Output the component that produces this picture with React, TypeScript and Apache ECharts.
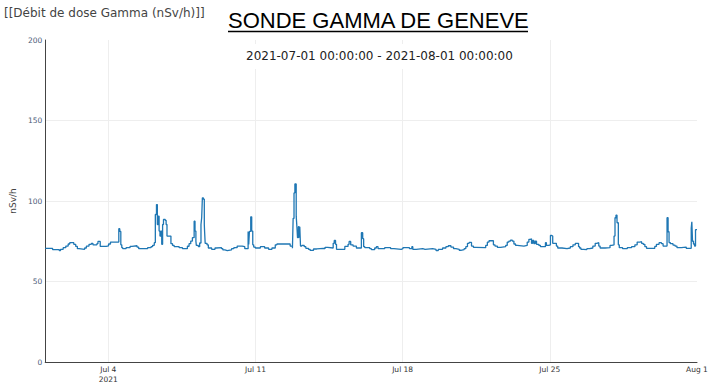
import React, { useEffect, useRef } from "react";
import * as echarts from "echarts";

// hours since 2021-07-01 00:00 (start of each step) and dose rate values (nSv/h)
const hours = [
  0, 8.4, 16, 17.5, 20.5, 23.5, 26.2, 28, 32.6, 34.8, 36.7, 38.6, 45, 47, 50, 52.6, 54.5, 59, 60.2, 62.8,
  69.6, 72.3, 74.5, 84, 85.1, 86.3, 87.4, 88.5, 92.3, 96.8, 99.1, 104.8, 106.7, 116.9, 120.8, 122.6, 124.5,
  125.7, 127, 128, 129, 130, 131, 132, 133, 134, 135, 137, 138, 139, 143.5, 145.3, 147.2, 152.9, 156.7,
  162.3, 164.2, 166.1, 168, 170, 171, 172, 172.5, 174.8, 176.3, 177.8, 178.6, 179.4, 180.5, 181.6, 182,
  182.6, 184.7, 186.2, 190, 193.8, 195.3, 201.3, 202.8, 205.1, 207.8, 212.7, 215.3, 219.1, 224.8, 227.8,
  231.6, 232.3, 233.1, 234.6, 235.7, 236.9, 238, 239.9, 245.6, 250.5, 255, 258.8, 262.6, 264.5, 279.6,
  282.2, 283, 284, 285, 286.5, 287.3, 288, 289, 289.9, 290.6, 291.4, 293, 295.6, 297.5, 300.5, 302.4,
  306.2, 310, 317.4, 319.4, 322.3, 328.7, 329.9, 331.4, 332.5, 342, 345.7, 346.9, 348.7, 351.4, 355.2,
  360.9, 362.4, 363.5, 364.8, 370.5, 372.3, 376.1, 378, 379.9, 387.5, 394.3, 398.1, 406.4, 408.3, 415.8,
  418.5, 419.6, 423.4, 431, 433.6, 442.3, 446.1, 448.7, 453.6, 457.4, 460.1, 463.1, 466.1, 468.8, 472.6,
  474.4, 478.2, 480.1, 482, 483.9, 486.6, 488.8, 491.5, 502.8, 504.7, 506.6, 511.6, 513.4, 516.1, 519.9,
  525.6, 527.4, 529.3, 531.2, 533.1, 535, 536.9, 538.8, 546.4, 550.2, 552.1, 554, 555.1, 556.3, 557.8,
  559.3, 560.8, 563.5, 565.3, 571, 572.1, 574.8, 576.7, 577.8, 579.3, 583.5, 585, 589.9, 595.6, 599.4,
  602.4, 605.1, 608.8, 610, 611.5, 614.5, 618.3, 621.3, 625.1, 627.8, 629.7, 631.9, 633.4, 639.1, 644.7,
  646.6, 649.3, 650.4, 651.5, 652.7, 654.2, 655.3, 659.1, 664.4, 669.3, 673.1, 675.7, 678.8, 680.7, 682.6,
  684.5, 686.4, 695.8, 697.7, 700.7, 703.4, 705.3, 709.8, 711, 712.1, 713.6, 716.6, 718.9, 721.1, 726.1,
  731.7, 737.4, 738.1, 738.9, 740, 741.2, 742.3, 744,
];
const values = [
  70.6, 69.8, 69.2, 70.0, 71.0, 72.0, 73.3, 74.1, 73.1, 71.8, 70.4, 70.0, 70.8, 72.0, 73.1, 73.6, 72.8, 73.5, 74.9, 71.8,
  72.2, 73.3, 74.5, 82.8, 81.1, 72.8, 71.0, 70.4, 71.0, 71.8, 72.2, 71.4, 70.4, 71.0, 71.6, 72.5, 74.1,
  91.6, 97.8, 85.4, 90.6, 81.3, 78.2, 81.3, 73.1, 85.4, 88.5, 88.0, 85.4, 78.2, 73.5, 72.4, 71.6, 71.0, 70.4,
  71.9, 73.5, 75.1, 77.2, 87.5, 81.3, 75.1, 72.4, 71.6, 73.9, 85.4, 89.6, 102.0, 101.2, 85.4, 80.3,
  73.7, 72.8, 70.8, 70.0, 70.8, 71.0, 70.4, 69.6, 69.2, 69.6, 70.4, 71.0, 72.0, 71.6, 70.4,
  81.1, 73.0, 81.1, 90.2, 81.3, 72.8, 71.4, 70.8, 71.6, 70.8, 70.0, 70.8, 72.8, 73.3, 72.0,
  70.6, 89.2, 105.0, 110.6, 90.6, 84.0, 77.2, 84.0, 77.2, 84.0, 72.0, 72.5, 71.6, 70.6, 70.0, 69.3,
  70.2, 70.6, 70.4, 71.2, 70.8, 73.7, 75.5, 73.1, 70.0, 71.8, 73.1, 74.9, 72.8, 72.0, 70.8,
  80.3, 76.6, 71.6, 71.0, 70.4, 69.8, 70.8, 71.6, 70.4, 71.0, 70.4, 70.0, 70.4, 71.0, 70.4,
  71.6, 70.0, 70.4, 70.0, 70.4, 70.0, 69.2, 70.0, 70.8, 71.6, 72.2, 71.4, 70.4, 70.0, 69.4,
  69.8, 70.4, 71.6, 73.7, 74.3, 72.0, 71.2, 71.0, 72.4, 74.5, 75.3, 72.8, 72.0, 71.2, 71.6,
  72.4, 74.5, 75.1, 75.7, 75.1, 73.3, 72.4, 72.0, 72.4, 74.5, 76.2, 76.6, 73.7, 75.5, 73.5,
  75.0, 73.1, 72.4, 71.6, 74.1, 72.4, 72.8, 78.6, 78.2, 73.7, 72.0, 70.8, 70.4, 70.8, 71.6,
  72.8, 73.7, 71.6, 70.8, 70.0, 69.8, 70.4, 70.8, 72.0, 73.7, 74.1, 72.0, 70.8, 71.0, 72.4,
  72.8, 78.2, 89.6, 91.2, 86.5, 72.8, 71.0, 70.4, 71.0, 71.6, 72.8, 74.5, 74.7, 73.7, 73.1,
  71.6, 70.6, 71.8, 73.1, 74.1, 73.5, 72.0, 89.6, 80.9, 74.2, 73.5, 72.6, 72.0, 71.1, 71.4,
  70.6, 83.0, 87.1, 75.0, 73.3, 72.0, 82.2, 82.2,
];

const xTickHours = [72, 240, 408, 576, 744];
const xTickLabels = ["Jul 4\n2021", "Jul 11", "Jul 18", "Jul 25", "Aug 1"];
const yTicks = [0, 50, 100, 150, 200];

const topLeftText = "[[Débit de dose Gamma (nSv/h)]]";
const titleText = "SONDE GAMMA DE GENEVE";
const subtitleText = "2021-07-01 00:00:00 - 2021-08-01 00:00:00";
const yAxisName = "nSv/h";

export default function App() {
  const ref = useRef<HTMLDivElement>(null);
  useEffect(() => {
    const chart = echarts.init(ref.current!, null, { renderer: "svg", width: 712, height: 384 });
    const data = hours.map((h, i) => [h, values[i]]);
    chart.setOption({
      animation: false,
      backgroundColor: "#ffffff",
      textStyle: { fontFamily: "DejaVu Sans" },
      grid: { left: 42, top: 40, width: 655, height: 323, containLabel: false },
      title: [
        {
          text: topLeftText,
          left: 4,
          top: 7,
          padding: 0,
          textStyle: { fontSize: 12, fontFamily: "DejaVu Sans", color: "#444444", fontWeight: "normal" },
        },
        {
          text: titleText,
          left: 228,
          top: 9,
          padding: 0,
          textStyle: { fontSize: 22, fontFamily: "Liberation Sans", color: "#000000", fontWeight: "normal" },
        },
        {
          text: subtitleText,
          left: 240,
          top: 44,
          padding: [6, 6, 7, 6],
          backgroundColor: "#ffffff",
          textStyle: { fontSize: 12, fontFamily: "DejaVu Sans", color: "#222222", fontWeight: "normal" },
        },
      ],
      graphic: [
        {
          type: "line",
          shape: { x1: 228, y1: 31.5, x2: 528, y2: 31.5 },
          style: { stroke: "#000000", lineWidth: 1.5 },
          z: 10,
        },
      ],
      xAxis: {
        type: "value",
        min: 0,
        max: 744,
        axisLine: { show: true, lineStyle: { color: "#444444", width: 1 } },
        axisTick: { show: false, customValues: xTickHours },
        axisLabel: {
          customValues: xTickHours,
          formatter: (v: number) => {
            const i = xTickHours.indexOf(v);
            return i >= 0 ? xTickLabels[i] : "";
          },
          fontSize: 7.5,
          lineHeight: 10,
          color: "#333333",
          fontFamily: "DejaVu Sans",
          margin: 2,
        },
        splitLine: { show: true, showMaxLine: false, lineStyle: { color: "#eeeeee", width: 1 } },
      },
      yAxis: {
        type: "value",
        min: 0,
        max: 200,
        interval: 50,
        name: yAxisName,
        nameLocation: "middle",
        nameGap: 21,
        nameTextStyle: { fontSize: 9, color: "#444444", fontFamily: "DejaVu Sans" },
        axisLine: { show: true, lineStyle: { color: "#444444", width: 1 } },
        axisTick: { show: false },
        axisLabel: {
          fontSize: 7.5,
          color: "#4b5a78",
          fontFamily: "DejaVu Sans",
          margin: 3,
          formatter: (v: number) => (yTicks.includes(v) ? String(v) : ""),
        },
        splitLine: { show: true, showMinLine: false, showMaxLine: false, lineStyle: { color: "#eeeeee", width: 1 } },
      },
      series: [
        {
          type: "line",
          step: "end",
          data,
          symbol: "none",
          showSymbol: false,
          lineStyle: { color: "#1f77b4", width: 1.3 },
          z: 3,
        },
      ],
    });
    return () => chart.dispose();
  }, []);
  return <div ref={ref} style={{ position: "fixed", left: 0, top: 0, width: 712, height: 384 }} />;
}
